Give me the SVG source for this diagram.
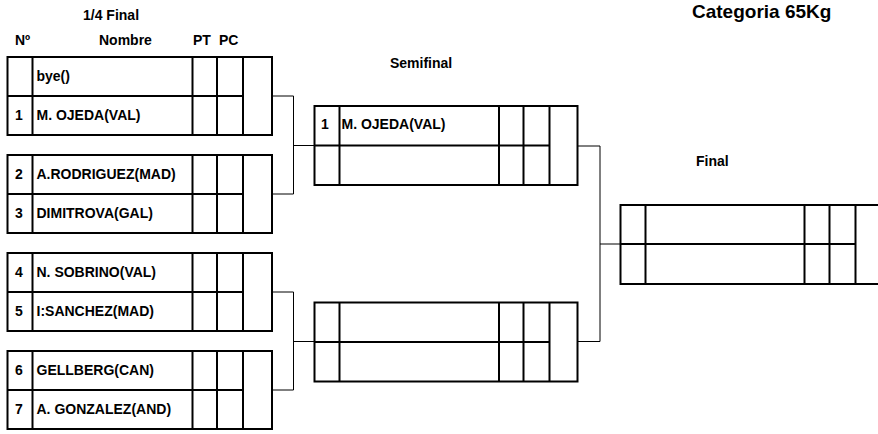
<svg xmlns="http://www.w3.org/2000/svg" width="878" height="434" viewBox="0 0 878 434">
<style>
text{font-family:"Liberation Sans",Arial,sans-serif;font-weight:bold;font-size:14px;fill:#000}
.title{font-size:19px}
.box{fill:#fff;stroke:#000;stroke-width:2}
.ln{stroke:#000;stroke-width:2;fill:none}
.con{stroke:#000;stroke-width:1;fill:none}
</style>
<rect width="878" height="434" fill="#fff"/>
<text class="title" x="692" y="18">Categoria 65Kg</text>
<text x="83" y="19.5">1/4 Final</text>
<text x="15" y="45">Nº</text>
<text x="99" y="45">Nombre</text>
<text x="193" y="45">PT</text>
<text x="219" y="45">PC</text>
<text x="390" y="68">Semifinal</text>
<text x="696" y="166">Final</text>
<g id="connectors">
<path class="con" d="M272 96H293.5V194H272M293.5 145.5H314.5"/>
<path class="con" d="M272 292H293.5V390H272M293.5 341.5H314.5"/>
<path class="con" d="M577.5 146H600V341.5H577.5M600 244H620.5"/>
</g>
<g id="qf1">
<rect class="box" x="7.5" y="57" width="264.5" height="78"/>
<path class="ln" d="M32.5 57V135M192.5 57V135M217 57V135M243 57V135M7.5 96H243"/>
<text x="36.5" y="81">bye()</text>
<text x="15" y="120">1</text><text x="36.5" y="120">M. OJEDA(VAL)</text>
</g>
<g id="qf2">
<rect class="box" x="7.5" y="155" width="264.5" height="78"/>
<path class="ln" d="M32.5 155V233M192.5 155V233M217 155V233M243 155V233M7.5 194H243"/>
<text x="15" y="179">2</text><text x="36.5" y="179">A.RODRIGUEZ(MAD)</text>
<text x="15" y="218">3</text><text x="36.5" y="218">DIMITROVA(GAL)</text>
</g>
<g id="qf3">
<rect class="box" x="7.5" y="253" width="264.5" height="78"/>
<path class="ln" d="M32.5 253V331M192.5 253V331M217 253V331M243 253V331M7.5 292H243"/>
<text x="15" y="277">4</text><text x="36.5" y="277">N. SOBRINO(VAL)</text>
<text x="15" y="316">5</text><text x="36.5" y="316">I:SANCHEZ(MAD)</text>
</g>
<g id="qf4">
<rect class="box" x="7.5" y="351" width="264.5" height="78"/>
<path class="ln" d="M32.5 351V429M192.5 351V429M217 351V429M243 351V429M7.5 390H243"/>
<text x="15" y="375">6</text><text x="36.5" y="375">GELLBERG(CAN)</text>
<text x="15" y="414">7</text><text x="36.5" y="414">A. GONZALEZ(AND)</text>
</g>
<g id="sf1">
<rect class="box" x="314.5" y="106" width="263" height="79"/>
<path class="ln" d="M339.5 106V185M499 106V185M523.5 106V185M549.5 106V185M314.5 145.5H549.5"/>
<text x="321" y="129">1</text><text x="341.5" y="129">M. OJEDA(VAL)</text>
</g>
<g id="sf2">
<rect class="box" x="314.5" y="302.5" width="263" height="79"/>
<path class="ln" d="M339.5 302.5V381.5M499 302.5V381.5M523.5 302.5V381.5M549.5 302.5V381.5M314.5 342H549.5"/>
</g>
<g id="final">
<rect class="box" x="620.5" y="205" width="270" height="79"/>
<path class="ln" d="M645.5 205V284M804.5 205V284M829.5 205V284M855.5 205V284M620.5 244H855.5"/>
</g>
</svg>
